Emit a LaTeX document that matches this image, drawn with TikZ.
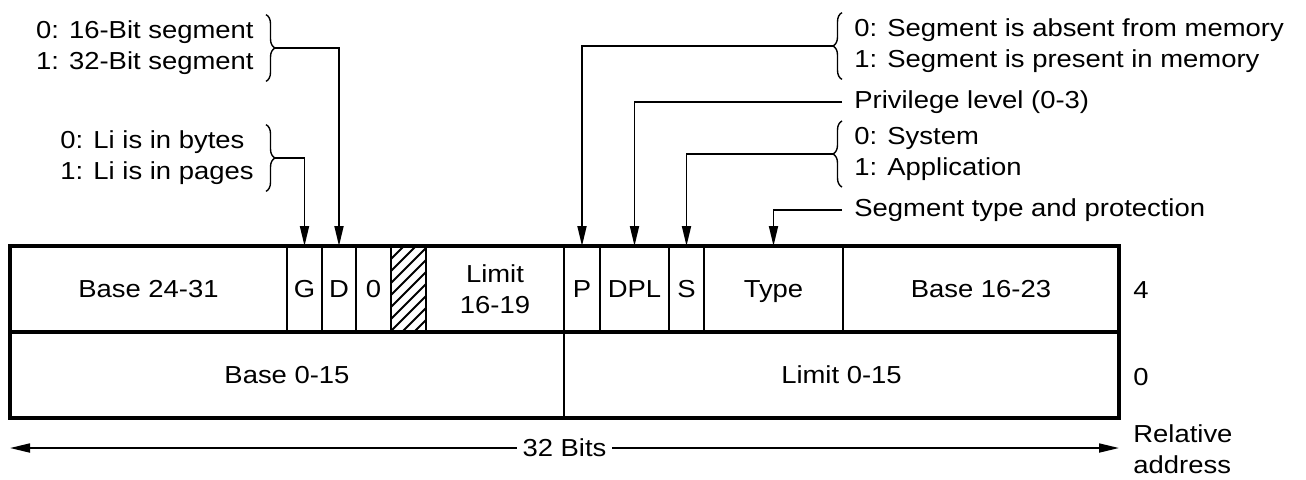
\documentclass[tikz,border=0pt]{standalone}
\usepackage{fontspec}
\setmainfont{Liberation Sans}[FakeStretch=1.115]
\usetikzlibrary{arrows.meta,calc,decorations.pathreplacing}
\newcommand{\fieldfont}{\fontsize{12.3pt}{15.5pt}\selectfont}
\tikzset{
  field/.style={
    draw,
    line width=1.1pt,
    inner sep=0pt,
    outer sep=0pt,
    minimum height=43pt,
    anchor=north west,
    align=center,
    font=\fieldfont
  },
  frame/.style={
    line width=1.6pt
  },
  hatch/.style={
    line width=0.9pt
  },
  note/.style={
    inner xsep=6pt,
    inner ysep=3pt,
    align=left,
    font=\fieldfont
  },
  brace/.style={
    decorate,
    decoration={brace, amplitude=4.5pt},
    line width=0.7pt
  },
  pointer/.style={
    -{Triangle[length=10pt,width=4.5pt]},
    line width=0.9pt
  },
  bitspan/.style={
    {Triangle[length=10pt,width=4.5pt]}-{Triangle[length=10pt,width=4.5pt]},
    line width=0.9pt
  }
}

\begin{document}
\begin{tikzpicture}[x=0.5pt,y=-0.5pt]

\useasboundingbox (0,0) rectangle (1306,479);

\node[field, minimum width=138.5pt] (base2431) at (10,246) {Base 24-31};
\node[field, minimum width=17.5pt] (gran) at (base2431.north east) {G};
\node[field, minimum width=17pt] (dflag) at (gran.north east) {D};
\node[field, minimum width=17.5pt] (zero) at (dflag.north east) {0};
\node[field, minimum width=17.5pt] (avl) at (zero.north east) {};
\node[field, minimum width=69pt] (limit1619) at (avl.north east) {Limit\\16-19};
\node[field, minimum width=18pt] (pres) at (limit1619.north east) {P};
\node[field, minimum width=34.5pt] (dpl) at (pres.north east) {DPL};
\node[field, minimum width=17.5pt] (sflag) at (dpl.north east) {S};
\node[field, minimum width=69.5pt, text depth=0pt] (type) at (sflag.north east) {Type};
\node[field, minimum width=138pt] (base1623) at (type.north east) {Base 16-23};
\node[field, minimum width=277pt] (base015) at (base2431.south west) {Base 0-15};
\node[field, minimum width=277.5pt] (limit015) at (base015.north east) {Limit 0-15};

\draw[frame] (base2431.north west) rectangle (limit015.south east);
\draw[frame] (base015.north west) -- (limit015.north east);

\begin{scope}
  \clip (avl.south west) rectangle (avl.north east);
  \foreach \k in {0,...,10}
    \draw[hatch] ($(avl.south west)+(0,35-12*\k)$) -- ++(35,-35);
\end{scope}

\node[note, anchor=east] (segnote) at (266,48) {0: 16-Bit segment\\1: 32-Bit segment};
\node[note, anchor=east] (gnote) at (266,158) {0: Li is in bytes\\1: Li is in pages};
\node[note, anchor=west] (pnote) at (842,46) {0: Segment is absent from memory\\1: Segment is present in memory};
\node[note, anchor=west] (dplnote) at (842,102) {Privilege level (0-3)};
\node[note, anchor=west] (snote) at (842,154) {0: System\\1: Application};
\node[note, anchor=west] (typenote) at (842,210) {Segment type and protection};

\draw[brace] (segnote.north east) -- (segnote.south east);
\draw[brace] (gnote.north east) -- (gnote.south east);
\draw[brace] (pnote.south west) -- (pnote.north west);
\draw[brace] (snote.south west) -- (snote.north west);

\coordinate (segtip) at ([xshift=4.5pt]segnote.east);
\coordinate (gtip) at ([xshift=4.5pt]gnote.east);
\coordinate (ptip) at ([xshift=-4.5pt]pnote.west);
\coordinate (stip) at ([xshift=-4.5pt]snote.west);

\draw[pointer] (segtip) -| (dflag.north);
\draw[pointer] (gtip) -| (gran.north);
\draw[pointer] (ptip) -| (pres.north);
\draw[pointer] (dplnote.west) -| (dpl.north);
\draw[pointer] (stip) -| (sflag.north);
\draw[pointer] (typenote.west) -| (type.north);

\node[note, anchor=west] (addr4) at (1121,290) {4};
\node[note, anchor=west] (addr0) at (1121,377) {0};
\node[note, anchor=west] (reladdr) at (1121,449) {Relative\\address};

\coordinate (bitsleft) at (10,448);
\coordinate (bitsright) at (1119,448);
\draw[bitspan] (bitsleft) -- node[fill=white, font=\fieldfont, inner xsep=3pt] (bits) {32 Bits} (bitsright);

\end{tikzpicture}
\end{document}
